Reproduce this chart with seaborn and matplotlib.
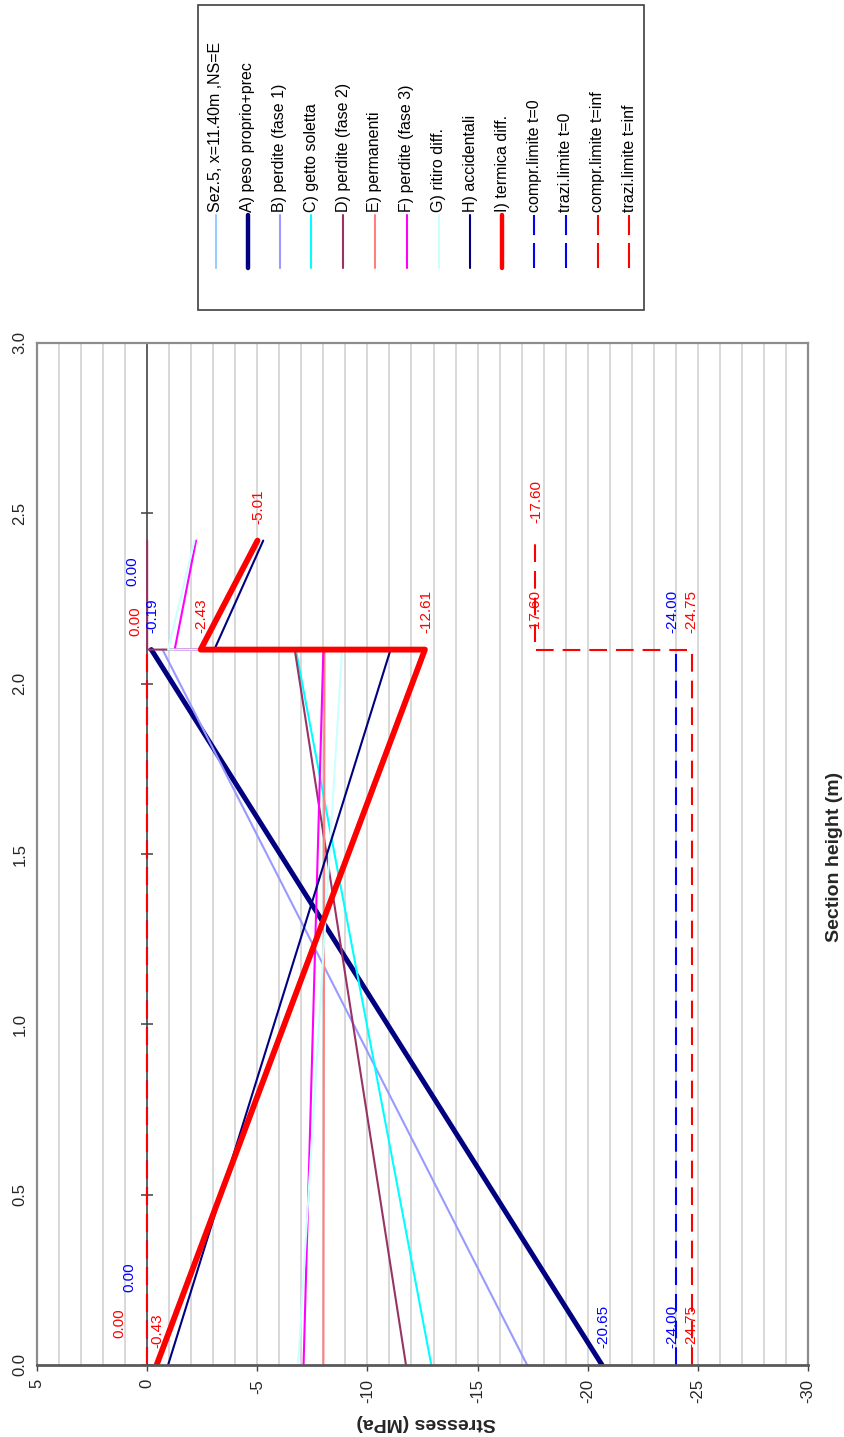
import matplotlib
matplotlib.use('Agg')
import numpy as np
import pandas as pd
import matplotlib.pyplot as plt
from matplotlib.lines import Line2D
from matplotlib.patches import Rectangle
import seaborn as sns

# section heights (m): girder bottom/top, slab bottom/top
H_GIRDER = [0.0, 2.10]
H_FULL = [0.0, 2.10, 2.10, 2.42]

# stresses (MPa) at those heights
A_peso = [-20.65, -0.19]
B_perdite1 = [-17.25, -0.70]
C_getto = [-12.90, -6.75]
D_perdite2 = [-11.75, -6.70, 0.00, 0.00]
E_permanenti = [-8.00, -8.05]
F_perdite3 = [-7.10, -8.00, -1.25, -2.22]
G_ritiro = [-6.85, -8.85, -0.95, -2.15]
H_accidentali = [-0.95, -11.05, -3.05, -5.27]
I_termica = [-0.43, -12.61, -2.43, -5.01]
compr_t0 = [-24.00, -24.00]
trazi_t0 = [0.00, 0.00]
compr_tinf = [-24.75, -24.75, -17.60, -17.60]
trazi_tinf = [0.00, 0.00]

STRESS_TICKS = [5, 0, -5, -10, -15, -20, -25, -30]
HEIGHT_TICKS = [0.0, 0.5, 1.0, 1.5, 2.0, 2.5, 3.0]

DASH = (0, (8.5, 4.3))

# name, heights, values, colour, width, style, label colour, label offsets (px)
series = [
    ("Sez.5, x=11.40m ,NS=E", [], [], "#99CCFF", 1.5, "-", None, None),
    ("A) peso proprio+prec", H_GIRDER, A_peso, "#000080", 3.6, "-", "#0000FF", None),
    ("B) perdite (fase 1)", H_GIRDER, B_perdite1, "#9999FF", 1.5, "-", None, None),
    ("C) getto soletta", H_GIRDER, C_getto, "#00FFFF", 1.5, "-", None, None),
    ("D) perdite (fase 2)", H_FULL, D_perdite2, "#993366", 1.5, "-", None, None),
    ("E) permanenti", H_GIRDER, E_permanenti, "#FF8080", 1.5, "-", None, None),
    ("F) perdite (fase 3)", H_FULL, F_perdite3, "#FF00FF", 1.5, "-", None, None),
    ("G) ritiro diff.", H_FULL, G_ritiro, "#CCFFFF", 1.5, "-", None, None),
    ("H) accidentali", H_FULL, H_accidentali, "#000080", 1.5, "-", None, None),
    ("I) termica diff.", H_FULL, I_termica, "#FF0000", 4.2, "-", "#FF0000", None),
    ("compr.limite t=0", H_GIRDER, compr_t0, "#0000FF", 1.5, DASH, "#0000FF",
     [(-3, 17), (-3, 17)]),
    ("trazi.limite t=0", H_GIRDER, trazi_t0, "#0000FF", 1.5, DASH, "#0000FF",
     [(-18, 73), (-15, 64)]),
    ("compr.limite t=inf", H_FULL, compr_tinf, "#FF0000", 1.5, DASH, "#FF0000",
     [(-1, 17), (-1, 17), (1, 17), (2, 18)]),
    ("trazi.limite t=inf", H_GIRDER, trazi_tinf, "#FF0000", 1.5, DASH, "#FF0000",
     [(-28, 27), (-12, 14)]),
]

sns.set_theme(style="white")
plt.rcParams['font.family'] = ['Liberation Sans', 'DejaVu Sans']
plt.rcParams['axes.unicode_minus'] = False

W, H = 844, 1437
fig = plt.figure(figsize=(W / 100, H / 100), dpi=100)
ax = fig.add_axes([37 / W, 1 - 1365 / H, (808 - 37) / W, (1365 - 343) / H])

ax.set_xlim(5, -30)
ax.set_ylim(0, 3)
ax.set_xticks(STRESS_TICKS)
ax.set_xticklabels([str(t) for t in STRESS_TICKS], rotation=90, fontsize=12)
ax.set_xticks(np.arange(-30, 6, 1), minor=True)
ax.set_yticks(HEIGHT_TICKS)
ax.set_yticklabels([f"{t:.1f}" for t in HEIGHT_TICKS], rotation=90, fontsize=12,
                   va='center')
ax.grid(which='both', axis='x', color='#D2D2D2', lw=1.2)
ax.grid(False, axis='y')
ax.tick_params(axis='x', which='major', direction='out', length=4, width=1,
               color='#404040', pad=6, bottom=True)
ax.tick_params(axis='x', which='minor', length=0)
ax.tick_params(axis='y', length=0, pad=7)
for side in ['top', 'left', 'right']:
    ax.spines[side].set_color('#8C8C8C')
    ax.spines[side].set_linewidth(1.6)
ax.spines['bottom'].set_color('#595959')
ax.spines['bottom'].set_linewidth(2)

# zero line with its tick marks
ax.axvline(0, color='#404040', lw=1.1, zorder=1.5)
ax.plot([0] * len(HEIGHT_TICKS), HEIGHT_TICKS, ls='none', marker='_',
        ms=8, mew=1.1, color='#404040', zorder=1.5, clip_on=False)

for name, hs, vals, col, lw, ls, lab_col, offs in series:
    if not vals:
        continue
    df = pd.DataFrame({"stress": vals, "height": hs})
    sns.lineplot(data=df, x="stress", y="height", sort=False, estimator=None,
                 color=col, lw=lw, linestyle=ls, ax=ax, legend=False)
    if lab_col is None:
        continue
    for i, (s, h) in enumerate(zip(vals, hs)):
        dx, dy = offs[i] if offs else (1, 17)
        ax.annotate(f"{s:.2f}", xy=(s, h), xytext=(dx, dy),
                    textcoords='offset pixels', rotation=90, ha='center',
                    va='bottom', color=lab_col, fontsize=11, zorder=10)

ax.set_xlabel("Stresses (MPa)", rotation=180, fontweight='bold', fontsize=14)
ax.xaxis.set_label_coords((426 - 37) / 771, -(1422 - 1365) / 1022)
ax.xaxis.label.set_va('center')
ax.set_ylabel("Section height (m)", fontweight='bold', fontsize=14)
ax.yaxis.set_label_coords((834 - 37) / 771, (1365 - 857) / 1022)
ax.yaxis.label.set_va('center')
ax.yaxis.label.set_ha('center')

# legend box, drawn rotated like the rest of the chart
fig.add_artist(Rectangle((198 / W, 1 - 310 / H), (644 - 198) / W, 305 / H,
                         transform=fig.transFigure, fill=False,
                         edgecolor='#404040', lw=1.2))
for i, (name, hs, vals, col, lw, ls, lab_col, offs) in enumerate(series):
    x = (216 + i * 31.8) / W
    leg_lw = 3.2 if lw > 3 else 1.5
    leg_ls = (0, (12, 3.8)) if ls != "-" else "-"
    fig.add_artist(Line2D([x, x], [1 - 268 / H, 1 - 215 / H],
                          transform=fig.transFigure, color=col, lw=leg_lw,
                          ls=leg_ls))
    fig.text(x, 1 - 212 / H, name, rotation=90, ha='center', va='bottom',
             fontsize=11.5, color='black')

fig.savefig("out.png", dpi=100)
